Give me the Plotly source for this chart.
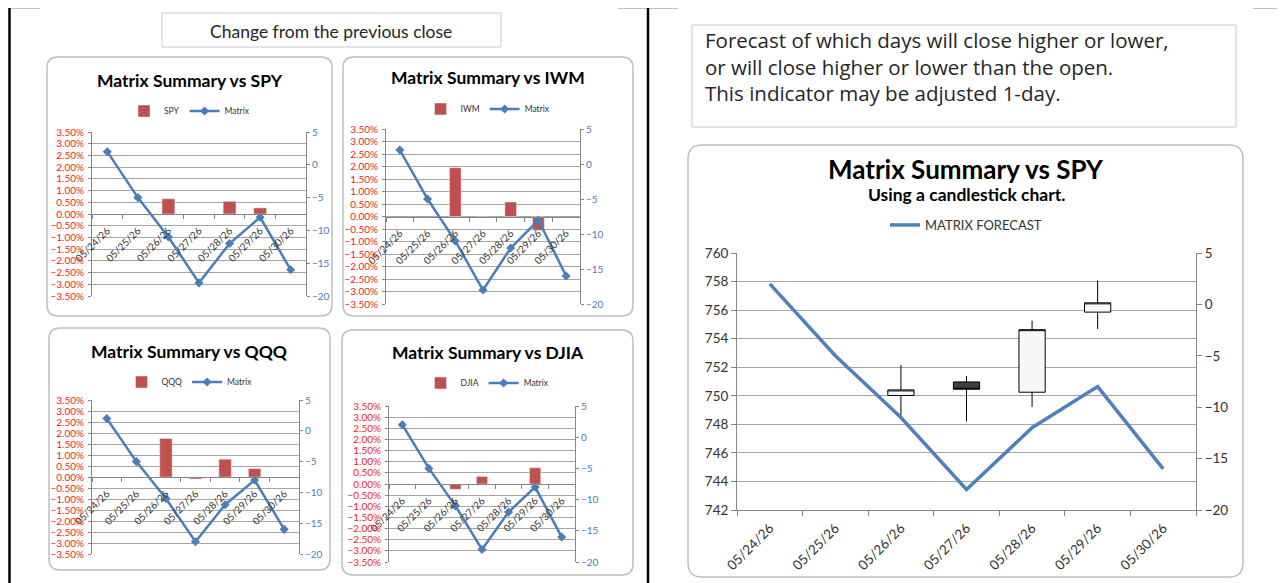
import plotly.graph_objects as go

# ---------------- data ----------------
dates = ["05/24/26", "05/25/26", "05/26/26", "05/27/26", "05/28/26", "05/29/26", "05/30/26"]
matrix = [2, -5, -11, -18, -12, -8, -16]

spy_chg = [None, None, 0.0065, -0.0004, 0.0054, 0.0026, None]
iwm_chg = [None, None, 0.0195, -0.0005, 0.0058, -0.0055, None]
qqq_chg = [None, None, 0.0175, -0.0009, 0.0081, 0.0038, None]
djia_chg = [None, None, -0.0024, 0.0034, None, 0.0073, None]

candle_dates = ["05/26/26", "05/27/26", "05/28/26", "05/29/26"]
candle_open = [750.02, 750.97, 750.25, 755.86]
candle_high = [752.15, 751.38, 755.26, 758.07]
candle_low = [748.64, 748.20, 749.22, 754.68]
candle_close = [750.41, 750.46, 754.63, 756.51]

pct_min, pct_max = -0.035, 0.035
matrix_min, matrix_max = -20, 5
price_min, price_max = 742, 760

info_lines = ["Forecast of which days will close higher or lower,",
              "or will close higher or lower than the open.",
              "This indicator may be adjusted 1-day."]

# ---------------- layout helpers ----------------
W, H = 1285, 583
OFF = 8  # page body margin compensation
FONT = "Lato, 'Open Sans', sans-serif"
RED_BAR = "#c0504d"
BLUE = "#4a7ebb"
GRID = "#a6a6a6"
AXIS = "#868686"
TXT = "#262626"


def px(x):
    return (x - OFF) / W


def py(y):
    return 1 - (y - OFF) / H


def rrect(x0, y0, x1, y1, r):
    P = lambda x, y: f"{px(x):.6f},{py(y):.6f}"
    return ("M " + P(x0 + r, y0) + " L " + P(x1 - r, y0) + " Q " + P(x1, y0) + " " + P(x1, y0 + r)
            + " L " + P(x1, y1 - r) + " Q " + P(x1, y1) + " " + P(x1 - r, y1)
            + " L " + P(x0 + r, y1) + " Q " + P(x0, y1) + " " + P(x0, y1 - r)
            + " L " + P(x0, y0 + r) + " Q " + P(x0, y0) + " " + P(x0 + r, y0) + " Z")


fig = go.Figure()
layout = dict(
    width=W, height=H, autosize=False,
    margin=dict(l=0, r=0, t=0, b=0, pad=0),
    paper_bgcolor="white", plot_bgcolor="rgba(0,0,0,0)",
    font=dict(family=FONT, color=TXT),
    bargap=0.58, boxgap=0.6, boxgroupgap=0,
    shapes=[], annotations=[],
)

# small chart specs: name, values, plot area (x0,x1,y0,y1), card (x0,y0,x1,y1), title y, legend y
small = [
    ("SPY", spy_chg, (92, 306, 132, 296), (47, 57, 332, 316), 80, 111),
    ("IWM", iwm_chg, (386, 580, 129, 304), (343, 57, 633, 316), 78, 109),
    ("QQQ", qqq_chg, (92, 299, 400, 554), (49, 328, 330, 570), 351, 382),
    ("DJIA", djia_chg, (389, 575, 406, 562), (342, 330, 633, 575), 352, 383),
]

for i, (name, vals, (x0, x1, y0, y1), card, ty, ly) in enumerate(small, start=1):
    xa = "x" if i == 1 else f"x{i}"
    yl = "y" if i == 1 else f"y{2 * i - 1}"
    yr = f"y{2 * i}"
    leg = "legend" if i == 1 else f"legend{i}"
    layout["shapes"].append(dict(type="path", xref="paper", yref="paper", path=rrect(*card, 11),
                                 line=dict(color="#bfbfbf", width=1.5), fillcolor="white", layer="below"))
    layout["annotations"].append(dict(text=f"<b>Matrix Summary vs {name}</b>", x=px((card[0] + card[2]) / 2),
                                      y=py(ty), xref="paper", yref="paper", showarrow=False,
                                      font=dict(size=17.5, color="black"), xanchor="center", yanchor="middle"))
    fig.add_trace(go.Bar(x=dates, y=vals, name=name, marker_color=RED_BAR, xaxis=xa, yaxis=yl,
                         legend=leg))
    fig.add_trace(go.Scatter(x=dates, y=matrix, name="Matrix", mode="lines+markers",
                             line=dict(color=BLUE, width=2.5),
                             marker=dict(symbol="diamond", size=7, color=BLUE),
                             xaxis=xa, yaxis=yr, legend=leg))
    zero_y = (y0 + y1) / 2
    layout["xaxis" if i == 1 else f"xaxis{i}"] = dict(
        domain=[px(x0), px(x1)], anchor="free", position=py(zero_y), type="category",
        categoryorder="array", categoryarray=dates, range=[-0.5, len(dates) - 0.5],
        showline=True, linecolor=AXIS, linewidth=1, ticks="outside", tickson="boundaries",
        ticklen=4, tickcolor=AXIS, tickangle=-45, dtick=1, automargin=False, ticklabelstandoff=6,
        tickfont=dict(size=10, color="#333333"), showgrid=False, zeroline=False, fixedrange=True)
    layout["yaxis" if i == 1 else f"yaxis{2 * i - 1}"] = dict(
        domain=[py(y1), py(y0)], anchor=xa, range=[pct_min, pct_max], automargin=False,
        tickmode="linear", tick0=pct_min, dtick=0.005, tickformat=".2%",
        showgrid=True, gridcolor=GRID, gridwidth=1, zeroline=False,
        showline=True, linecolor=AXIS, ticks="outside", ticklen=3, tickcolor=AXIS,
        ticklabelstandoff=2, tickfont=dict(size=10, color="#ee1c1c"))
    layout[f"yaxis{2 * i}"] = dict(
        domain=[py(y1), py(y0)], anchor=xa, overlaying=yl, side="right", automargin=False,
        range=[matrix_min, matrix_max], tickmode="linear", tick0=matrix_min, dtick=5,
        showgrid=False, zeroline=False, showline=True, linecolor=AXIS,
        ticks="outside", ticklen=3, tickcolor=AXIS, tickfont=dict(size=10, color=BLUE))
    layout[leg] = dict(orientation="h", x=px((card[0] + card[2]) / 2), y=py(ly), xanchor="center",
                       yanchor="middle", font=dict(size=8.5, color="#333333"), bgcolor="rgba(0,0,0,0)",
                       itemwidth=30, tracegroupgap=0)

# ---------------- big candlestick chart ----------------
bx0, bx1, by0, by1 = 737, 1196, 253, 510
bcard = (688, 145, 1243, 577)
layout["shapes"].append(dict(type="path", xref="paper", yref="paper", path=rrect(*bcard, 14),
                             line=dict(color="#bfbfbf", width=1.5), fillcolor="white", layer="below"))
fig.add_trace(go.Candlestick(
    x=candle_dates, open=candle_open, high=candle_high, low=candle_low, close=candle_close,
    xaxis="x5", yaxis="y9", showlegend=False, whiskerwidth=0,
    increasing=dict(line=dict(color="black", width=1), fillcolor="#f7f7f7"),
    decreasing=dict(line=dict(color="black", width=1), fillcolor="#404040")))
fig.add_trace(go.Scatter(x=dates, y=matrix, name="MATRIX FORECAST", mode="lines",
                         line=dict(color="#4f81bd", width=3.5), xaxis="x5", yaxis="y10", legend="legend5"))
layout["xaxis5"] = dict(
    domain=[px(bx0), px(bx1)], anchor="y9", type="category", categoryorder="array",
    categoryarray=dates, range=[-0.5, len(dates) - 0.5], rangeslider=dict(visible=False),
    showline=True, linecolor=AXIS, ticks="outside", tickson="boundaries", ticklen=5, tickcolor=AXIS,
    tickangle=-45, dtick=1, automargin=False, ticklabelstandoff=4,
    tickfont=dict(size=13.5, color="#333333"), showgrid=False, zeroline=False)
layout["yaxis9"] = dict(
    domain=[py(by1), py(by0)], anchor="x5", range=[price_min, price_max], tickmode="linear",
    tick0=price_min, dtick=2, showgrid=True, gridcolor=GRID, zeroline=False, showline=True,
    automargin=False, linecolor=AXIS, ticks="outside", ticklen=5, tickcolor=AXIS,
    tickfont=dict(size=13.5, color="#333333"))
layout["yaxis10"] = dict(
    domain=[py(by1), py(by0)], anchor="x5", overlaying="y9", side="right", automargin=False,
    range=[matrix_min, matrix_max], tickmode="linear", tick0=matrix_min, dtick=5, showgrid=False,
    zeroline=False, showline=True, linecolor=AXIS, ticks="outside", ticklen=5, tickcolor=AXIS,
    tickfont=dict(size=13.5, color="#333333"))
layout["legend5"] = dict(orientation="h", x=px(966), y=py(225), xanchor="center", yanchor="middle",
                         font=dict(size=13, color="#333333"), bgcolor="rgba(0,0,0,0)", itemwidth=30)
layout["annotations"] += [
    dict(text="<b>Matrix Summary vs SPY</b>", x=px(966), y=py(169), xref="paper", yref="paper",
         showarrow=False, font=dict(size=26, color="black"), xanchor="center", yanchor="middle"),
    dict(text="<b>Using a candlestick chart.</b>", x=px(966), y=py(194), xref="paper", yref="paper",
         showarrow=False, font=dict(size=17.5, color="black"), xanchor="center", yanchor="middle"),
]

# ---------------- text boxes ----------------
layout["shapes"] += [
    dict(type="rect", xref="paper", yref="paper", x0=px(162), x1=px(501), y0=py(47), y1=py(13),
         line=dict(color="#c8c8c8", width=1), fillcolor="white", layer="below"),
    dict(type="rect", xref="paper", yref="paper", x0=px(692), x1=px(1236), y0=py(127), y1=py(25),
         line=dict(color="#c8c8c8", width=1), fillcolor="white", layer="below"),
]
layout["annotations"].append(
    dict(text="Change from the previous close", x=px(331), y=py(31), xref="paper", yref="paper",
         showarrow=False, font=dict(size=17.5, color=TXT), xanchor="center", yanchor="middle"))
layout["annotations"].append(
    dict(text="<br>".join(info_lines), x=px(703), y=py(67), xref="paper", yref="paper",
         showarrow=False, align="left", font=dict(size=20.5, color=TXT, family="'Open Sans', sans-serif"),
         xanchor="left", yanchor="middle"))

# ---------------- frame lines ----------------
for (xa0, ya0, xa1, ya1, w) in [(8, 7, 1293, 7, 1.2), (8, 7, 40, 7, 2.5), (618, 7, 678, 7, 2.5),
                                (1253, 7, 1293, 7, 2.5), (9.5, 7, 9.5, 600, 2.5), (648, 7, 648, 600, 2.5)]:
    layout["shapes"].append(dict(type="line", xref="paper", yref="paper", x0=px(xa0), x1=px(xa1),
                                 y0=py(ya0), y1=py(ya1), line=dict(color="black", width=w)))

fig.update_layout(**layout)
fig.write_html("out.html")
